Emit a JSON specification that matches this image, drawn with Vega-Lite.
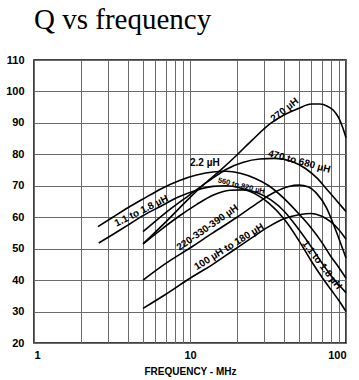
{
  "$schema": "https://vega.github.io/schema/vega-lite/v6.json",
  "width": 312,
  "height": 283,
  "autosize": "none",
  "padding": {"left": 34, "top": 60, "right": 13, "bottom": 37},
  "background": "white",
  "title": {"text": "Q vs frequency", "font": "Liberation Serif", "fontSize": 29, "fontWeight": "normal", "anchor": "start", "frame": "group", "offset": 19, "color": "black"},
  "config": {
    "view": {"stroke": "black", "strokeWidth": 1.5},
    "font": "Liberation Sans"
  },
  "encoding": {
    "x": {"field": "f", "type": "quantitative",
      "scale": {"type": "log", "domain": [1, 100], "nice": false},
      "axis": {"values": [1,2,3,4,5,6,7,8,9,10,20,30,40,50,60,70,80,90,100],
        "labelExpr": "(datum.value == 1 || datum.value == 10 || datum.value == 100) ? datum.value : ''",
        "labelOverlap": false, "grid": true, "gridColor": "#6a6a6a", "gridWidth": 1,
        "ticks": false, "domain": false, "labelFont": "Liberation Sans", "labelFontWeight": "bold",
        "labelFontSize": 11, "labelColor": "black", "labelPadding": 6,
        "title": "FREQUENCY - MHz", "titleFont": "Liberation Sans", "titleFontSize": 10, "titleFontWeight": "bold", "titleColor": "black", "titlePadding": 6}},
    "y": {"field": "q", "type": "quantitative",
      "scale": {"domain": [20, 110], "nice": false, "zero": false},
      "axis": {"values": [20,30,40,50,60,70,80,90,100,110], "grid": true, "gridColor": "#6a6a6a", "gridWidth": 1,
        "ticks": false, "domain": false, "labelFont": "Liberation Sans", "labelFontWeight": "bold",
        "labelFontSize": 11, "labelColor": "black", "labelPadding": 10, "title": null}}
  },
  "layer": [
    {
      "data": {"values": [{"f": 10}]},
      "mark": {"type": "rule", "color": "black", "strokeWidth": 1.5},
      "encoding": {"y": {"datum": 20}, "y2": {"datum": 110}}
    },
    {
      "data": {"values": [
        {"curve": "2.2", "f": 2.57, "q": 57}, {"curve": "2.2", "f": 3.2, "q": 60}, {"curve": "2.2", "f": 4, "q": 63}, {"curve": "2.2", "f": 5, "q": 65.8}, {"curve": "2.2", "f": 6.5, "q": 69}, {"curve": "2.2", "f": 8.5, "q": 71.6}, {"curve": "2.2", "f": 11, "q": 73.4}, {"curve": "2.2", "f": 14, "q": 74.4}, {"curve": "2.2", "f": 17, "q": 74.6}, {"curve": "2.2", "f": 21, "q": 74}, {"curve": "2.2", "f": 26, "q": 72.4}, {"curve": "2.2", "f": 32, "q": 70}, {"curve": "2.2", "f": 40, "q": 66}, {"curve": "2.2", "f": 50, "q": 61}, {"curve": "2.2", "f": 60, "q": 56.5}, {"curve": "2.2", "f": 70, "q": 52}, {"curve": "2.2", "f": 80, "q": 47.5}, {"curve": "2.2", "f": 90, "q": 44}, {"curve": "2.2", "f": 100, "q": 40.6},
        {"curve": "1.1-1.8", "f": 2.6, "q": 51.8}, {"curve": "1.1-1.8", "f": 3.2, "q": 54.5}, {"curve": "1.1-1.8", "f": 4, "q": 57.5}, {"curve": "1.1-1.8", "f": 5, "q": 60.5}, {"curve": "1.1-1.8", "f": 6.5, "q": 63.5}, {"curve": "1.1-1.8", "f": 8.5, "q": 66.5}, {"curve": "1.1-1.8", "f": 11, "q": 68.6}, {"curve": "1.1-1.8", "f": 14, "q": 69.8}, {"curve": "1.1-1.8", "f": 17, "q": 70}, {"curve": "1.1-1.8", "f": 21, "q": 69.3}, {"curve": "1.1-1.8", "f": 26, "q": 67.5}, {"curve": "1.1-1.8", "f": 32, "q": 64.5}, {"curve": "1.1-1.8", "f": 40, "q": 59.5}, {"curve": "1.1-1.8", "f": 50, "q": 52.5}, {"curve": "1.1-1.8", "f": 60, "q": 46}, {"curve": "1.1-1.8", "f": 70, "q": 41}, {"curve": "1.1-1.8", "f": 80, "q": 37}, {"curve": "1.1-1.8", "f": 90, "q": 33.5}, {"curve": "1.1-1.8", "f": 100, "q": 30},
        {"curve": "270", "f": 5, "q": 51.5}, {"curve": "270", "f": 7, "q": 58.5}, {"curve": "270", "f": 9.65, "q": 65.5}, {"curve": "270", "f": 12.5, "q": 70.8}, {"curve": "270", "f": 15.7, "q": 75}, {"curve": "270", "f": 20, "q": 79.8}, {"curve": "270", "f": 25, "q": 84.5}, {"curve": "270", "f": 33, "q": 89.9}, {"curve": "270", "f": 40, "q": 92.5}, {"curve": "270", "f": 49.5, "q": 94.6}, {"curve": "270", "f": 60, "q": 96}, {"curve": "270", "f": 68, "q": 96}, {"curve": "270", "f": 76, "q": 95.3}, {"curve": "270", "f": 83, "q": 94}, {"curve": "270", "f": 90, "q": 91.5}, {"curve": "270", "f": 95, "q": 88.7}, {"curve": "270", "f": 100, "q": 85.3},
        {"curve": "470-680", "f": 5, "q": 55.4}, {"curve": "470-680", "f": 7, "q": 61.5}, {"curve": "470-680", "f": 10, "q": 67.2}, {"curve": "470-680", "f": 13, "q": 71.3}, {"curve": "470-680", "f": 17, "q": 75.2}, {"curve": "470-680", "f": 22, "q": 77.5}, {"curve": "470-680", "f": 28, "q": 78.5}, {"curve": "470-680", "f": 35, "q": 78.7}, {"curve": "470-680", "f": 45, "q": 77.7}, {"curve": "470-680", "f": 55, "q": 75.5}, {"curve": "470-680", "f": 65, "q": 72.5}, {"curve": "470-680", "f": 75, "q": 69}, {"curve": "470-680", "f": 88, "q": 65}, {"curve": "470-680", "f": 100, "q": 61.8},
        {"curve": "560-820", "f": 5, "q": 51.5}, {"curve": "560-820", "f": 6.5, "q": 56}, {"curve": "560-820", "f": 8.5, "q": 60.3}, {"curve": "560-820", "f": 11, "q": 64}, {"curve": "560-820", "f": 14, "q": 67}, {"curve": "560-820", "f": 18, "q": 68.6}, {"curve": "560-820", "f": 22, "q": 68.7}, {"curve": "560-820", "f": 27, "q": 67.8}, {"curve": "560-820", "f": 33, "q": 65.5}, {"curve": "560-820", "f": 40, "q": 62}, {"curve": "560-820", "f": 50, "q": 56}, {"curve": "560-820", "f": 60, "q": 50.5}, {"curve": "560-820", "f": 70, "q": 45.5}, {"curve": "560-820", "f": 80, "q": 41.5}, {"curve": "560-820", "f": 90, "q": 38.5}, {"curve": "560-820", "f": 100, "q": 36},
        {"curve": "220-390", "f": 5, "q": 40}, {"curve": "220-390", "f": 7, "q": 45.3}, {"curve": "220-390", "f": 10, "q": 50.2}, {"curve": "220-390", "f": 14, "q": 55}, {"curve": "220-390", "f": 20, "q": 60}, {"curve": "220-390", "f": 27, "q": 64.5}, {"curve": "220-390", "f": 35, "q": 68}, {"curve": "220-390", "f": 43, "q": 69.8}, {"curve": "220-390", "f": 50, "q": 70.2}, {"curve": "220-390", "f": 57, "q": 69.7}, {"curve": "220-390", "f": 65, "q": 67.5}, {"curve": "220-390", "f": 75, "q": 63}, {"curve": "220-390", "f": 85, "q": 56.5}, {"curve": "220-390", "f": 100, "q": 47},
        {"curve": "100-180", "f": 5, "q": 31}, {"curve": "100-180", "f": 7, "q": 35.5}, {"curve": "100-180", "f": 10, "q": 40.6}, {"curve": "100-180", "f": 14, "q": 45}, {"curve": "100-180", "f": 19, "q": 49.5}, {"curve": "100-180", "f": 25, "q": 53.5}, {"curve": "100-180", "f": 32, "q": 57}, {"curve": "100-180", "f": 40, "q": 59.5}, {"curve": "100-180", "f": 50, "q": 60.8}, {"curve": "100-180", "f": 60, "q": 61.2}, {"curve": "100-180", "f": 70, "q": 60.3}, {"curve": "100-180", "f": 80, "q": 58.5}, {"curve": "100-180", "f": 90, "q": 56}, {"curve": "100-180", "f": 100, "q": 53}
      ]},
      "mark": {"type": "line", "color": "black", "strokeWidth": 1.6, "interpolate": "monotone"},
      "encoding": {"detail": {"field": "curve"}}
    },
    {
      "data": {"values": [{"label": "1.1 to 1.8 µH", "f": 4.88, "q": 62}]},
      "mark": {"type": "text", "angle": -26.5, "fontSize": 10, "fontWeight": "bold", "color": "black"},
      "encoding": {"text": {"field": "label"}}
    },
    {
      "data": {"values": [{"label": "2.2 µH", "f": 12.45, "q": 77.2}]},
      "mark": {"type": "text", "angle": 0, "fontSize": 10, "fontWeight": "bold", "color": "black"},
      "encoding": {"text": {"field": "label"}}
    },
    {
      "data": {"values": [{"label": "270 µH", "f": 40.4, "q": 94.1}]},
      "mark": {"type": "text", "angle": -38, "fontSize": 10, "fontWeight": "bold", "color": "black"},
      "encoding": {"text": {"field": "label"}}
    },
    {
      "data": {"values": [{"label": "470 to 680 µH", "f": 50.1, "q": 77.7}]},
      "mark": {"type": "text", "angle": 15, "fontSize": 10, "fontWeight": "bold", "color": "black"},
      "encoding": {"text": {"field": "label"}}
    },
    {
      "data": {"values": [{"label": "560 to 820 µH", "f": 21.3, "q": 69.9}]},
      "mark": {"type": "text", "angle": 14, "fontSize": 7.5, "fontWeight": "bold", "color": "black"},
      "encoding": {"text": {"field": "label"}}
    },
    {
      "data": {"values": [{"label": "220-330-390 µH", "f": 12.95, "q": 56.7}]},
      "mark": {"type": "text", "angle": -35, "fontSize": 10, "fontWeight": "bold", "color": "black"},
      "encoding": {"text": {"field": "label"}}
    },
    {
      "data": {"values": [{"label": "100 µH to 180 µH", "f": 17.8, "q": 50.6}]},
      "mark": {"type": "text", "angle": -31.7, "fontSize": 10, "fontWeight": "bold", "color": "black"},
      "encoding": {"text": {"field": "label"}}
    },
    {
      "data": {"values": [{"label": "1.1 to 1.8 µH", "f": 70, "q": 44.8}]},
      "mark": {"type": "text", "angle": 52.5, "fontSize": 10, "fontWeight": "bold", "color": "black"},
      "encoding": {"text": {"field": "label"}}
    }
  ]
}
